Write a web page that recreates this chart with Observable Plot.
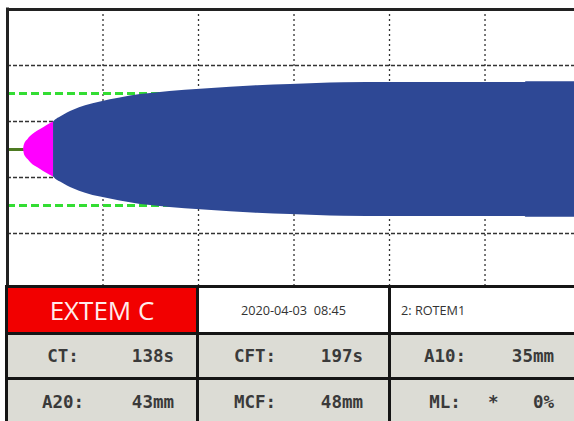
<!DOCTYPE html>
<html><head><meta charset="utf-8">
<script src="https://cdn.jsdelivr.net/npm/d3@7"></script>
<script src="https://cdn.jsdelivr.net/npm/@observablehq/plot@0.6"></script>
<style>
html,body{margin:0;padding:0;background:#fff;}
#wrap{position:relative;width:574px;height:421px;overflow:hidden;background:#fff;}
#chart{position:absolute;left:0;top:0;}
#chart svg{display:block;}
#table{position:absolute;left:5px;top:285px;width:569px;height:136px;background:#151515;}
.cell{position:absolute;box-sizing:border-box;overflow:hidden;}
.red{background:#f20000;}
.white{background:#ffffff;}
.gray{background:#dcdcd5;}
.title{position:absolute;left:0;right:0;text-align:center;font-family:"Open Sans",sans-serif;font-size:26px;color:#ffecec;line-height:44px;top:0;}
.small{position:absolute;font-family:"Open Sans",sans-serif;font-size:12.7px;color:#333;white-space:pre;line-height:44px;top:0;}
.lab,.val,.star{position:absolute;font-family:"DejaVu Sans Mono",monospace;font-weight:bold;font-size:17.5px;color:#3a3a3a;white-space:pre;top:0;}
</style></head>
<body><div id="wrap"><div id="chart"></div><div id="table"></div></div>
<script>
// time axis (minutes), amplitude axis (half-amplitude, mm)
const gridTimes = [10, 20, 30, 40, 50];
const gridAmps = [-30, -10, 10, 30];
const refAmps = [-20, 20];
const baseT = [0, 1.68];
const baseA = [0, 0];
const cftT = [1.68, 1.75, 1.88, 2.15, 2.41, 2.9, 3.46, 4.1, 4.82];
const cftA = [0, 1.4, 2.5, 3.6, 4.6, 6.0, 7.1, 8.5, 9.8];
const mcfT = [4.82, 5.03, 5.55, 6.28, 6.91, 8.17, 9.74, 11.8, 13.93, 15.0, 17.0, 20.21, 23.35, 26.18, 29.63, 35.18, 40.1, 47.0, 54.2, 54.3, 59.37];
const mcfA = [9.8, 10.5, 11.6, 13.0, 14.0, 15.6, 17.0, 18.4, 19.6, 20.0, 20.7, 21.5, 22.2, 22.8, 23.2, 23.8, 23.9, 23.9, 23.9, 24.2, 24.2];

// result panel
const testName = "EXTEM C";
const dateText = "2020-04-03  08:45";
const deviceText = "2: ROTEM1";
const row1Labels = ["CT:", "CFT:", "A10:"];
const row1Values = ["138s", "197s", "35mm"];
const row2Labels = ["A20:", "MCF:", "ML:"];
const row2Values = ["43mm", "48mm", "0%"];

const base = baseT.map((t, i) => ({t, a: baseA[i]}));
const cft = cftT.map((t, i) => ({t, a: cftA[i]}));
const mcf = mcfT.map((t, i) => ({t, a: mcfA[i]}));

const chart = Plot.plot({
  width: 574, height: 285,
  marginLeft: 7, marginRight: 0, marginTop: 9, marginBottom: 0,
  x: {domain: [0, 59.37], axis: null},
  y: {domain: [-48.57, 50], axis: null},
  marks: [
    Plot.ruleX(gridTimes, {stroke: "#333", strokeWidth: 1.3, strokeDasharray: "2,3"}),
    Plot.ruleY(gridAmps, {stroke: "#333", strokeWidth: 1.3, strokeDasharray: "4,2"}),
    Plot.ruleY(refAmps, {stroke: "#33dd33", strokeWidth: 3, strokeDasharray: "8,4"}),
    Plot.line(base, {x: "t", y: "a", stroke: "#4d7a22", strokeWidth: 3}),
    Plot.areaY(cft, {x: "t", y1: d => -d.a, y2: d => d.a, fill: "#ff00ff", curve: "monotone-x"}),
    Plot.areaY(mcf, {x: "t", y1: d => -d.a, y2: d => d.a, fill: "#2e4895", curve: "monotone-x"}),
    Plot.ruleY([50], {stroke: "#222", strokeWidth: 3}),
    Plot.ruleX([0], {stroke: "#222", strokeWidth: 3, strokeLinecap: "square"})
  ]
});
document.getElementById("chart").appendChild(chart);

// table (coordinates relative to #table at left 5, top 285)
const table = document.getElementById("table");
const colX = [3, 194, 386];
const colW = [188, 189, 183];
const rowY = [3, 50, 95];
const rowH = [44, 42, 45];
function cell(ci, ri, cls) {
  const d = document.createElement("div");
  d.className = "cell " + cls;
  d.style.left = colX[ci] + "px"; d.style.top = rowY[ri] + "px";
  d.style.width = colW[ci] + "px"; d.style.height = rowH[ri] + "px";
  table.appendChild(d);
  return d;
}
const c0 = cell(0, 0, "red");
c0.innerHTML = `<div class="title">${testName}</div>`;
const c1 = cell(1, 0, "white");
c1.innerHTML = `<div class="small" style="left:0;right:0;text-align:center">${dateText}</div>`;
const c2 = cell(2, 0, "white");
c2.innerHTML = `<div class="small" style="left:10px">${deviceText}</div>`;
const labCenters = [55, 56, 54];
const valRights = [22, 25, 20];
[[row1Labels, row1Values, 1, 42], [row2Labels, row2Values, 2, 44]].forEach(([labs, vals, ri, lh]) => {
  labs.forEach((l, ci) => {
    const c = cell(ci, ri, "gray");
    const extra = (l === "ML:") ? `<span class="star" style="left:97px;line-height:${lh}px">*</span>` : "";
    c.innerHTML = `<span class="lab" style="left:${labCenters[ci] - 25}px;width:50px;text-align:center;line-height:${lh}px">${l}</span>` +
      extra +
      `<span class="val" style="right:${valRights[ci]}px;line-height:${lh}px">${vals[ci]}</span>`;
  });
});
</script>
</body></html>
